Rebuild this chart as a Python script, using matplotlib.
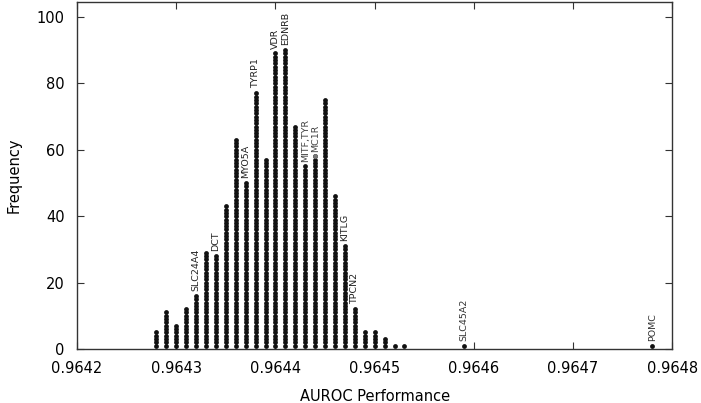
import matplotlib
matplotlib.use('Agg')
import matplotlib.pyplot as plt
import numpy as np

# Bin centres (AUROC) and how many genes fall in each bin
bin_centers = [0.96428, 0.96429, 0.96430, 0.96431, 0.96432, 0.96433, 0.96434,
               0.96435, 0.96436, 0.96437, 0.96438, 0.96439, 0.96440, 0.96441,
               0.96442, 0.96443, 0.96444, 0.96445, 0.96446, 0.96447, 0.96448,
               0.96449, 0.96450, 0.96451, 0.96452, 0.96453, 0.96459, 0.96478]
counts = [5, 11, 7, 12, 16, 29, 28, 43, 63, 50, 77, 57, 89, 90,
          67, 55, 58, 75, 46, 31, 12, 5, 5, 3, 1, 1, 1, 1]

# Labelled genes: (label, bin centre)
gene_labels = ['SLC24A4', 'DCT', 'MYO5A', 'TYRP1', 'VDR', 'EDNRB', 'MITF,TYR',
               'MC1R', 'KITLG', 'TPCN2', 'SLC45A2', 'POMC']
gene_bins = [0.96432, 0.96434, 0.96437, 0.96438, 0.96440, 0.96441, 0.96443,
             0.96444, 0.96447, 0.96448, 0.96459, 0.96478]
gene_colors = ['#222222', '#222222', '#222222', '#222222', '#222222', '#222222',
               '#444444', '#444444', '#222222', '#222222', '#333333', '#333333']

xticks = [0.9642, 0.9643, 0.9644, 0.9645, 0.9646, 0.9647, 0.9648]
yticks = [0, 20, 40, 60, 80, 100]

fig = plt.figure(figsize=(7.01, 4.03), dpi=100)
ax = fig.add_axes([0.11, 0.134, 0.849, 0.861])

# Stack one dot per gene in each bin
xs, ys = [], []
for c, n in zip(bin_centers, counts):
    xs.extend([c] * n)
    ys.extend(range(1, n + 1))
ax.scatter(xs, ys, s=12, color='#111111', linewidths=0, zorder=3)

# MC1R top dot is drawn in grey
mc1r_x = gene_bins[gene_labels.index('MC1R')]
mc1r_n = counts[bin_centers.index(mc1r_x)]
ax.scatter([mc1r_x], [mc1r_n], s=12, color='#777777', linewidths=0, zorder=4)

for lab, gx, col in zip(gene_labels, gene_bins, gene_colors):
    top = counts[bin_centers.index(gx)]
    ax.annotate(lab, xy=(gx, top), xytext=(0, 3.5), textcoords='offset points',
                rotation=90, ha='center', va='bottom', fontsize=6.8, color=col)

ax.set_xlim(0.9642, 0.9648)
ax.set_ylim(0, 104.5)
ax.set_xticks(xticks)
ax.set_xticklabels(['%.4f' % t for t in xticks])
ax.set_yticks(yticks)
ax.tick_params(direction='in', length=5, top=True, right=True,
               labelsize=10.5, color='#333333')
ax.tick_params(axis='x', pad=9)
ax.tick_params(axis='y', pad=9)
for sp in ax.spines.values():
    sp.set_color('#333333')
    sp.set_linewidth(1.0)

ax.set_xlabel('AUROC Performance', fontsize=10.5, labelpad=9)
ax.set_ylabel('Frequency', fontsize=10.5, labelpad=11)

fig.savefig('out.png', dpi=100)
